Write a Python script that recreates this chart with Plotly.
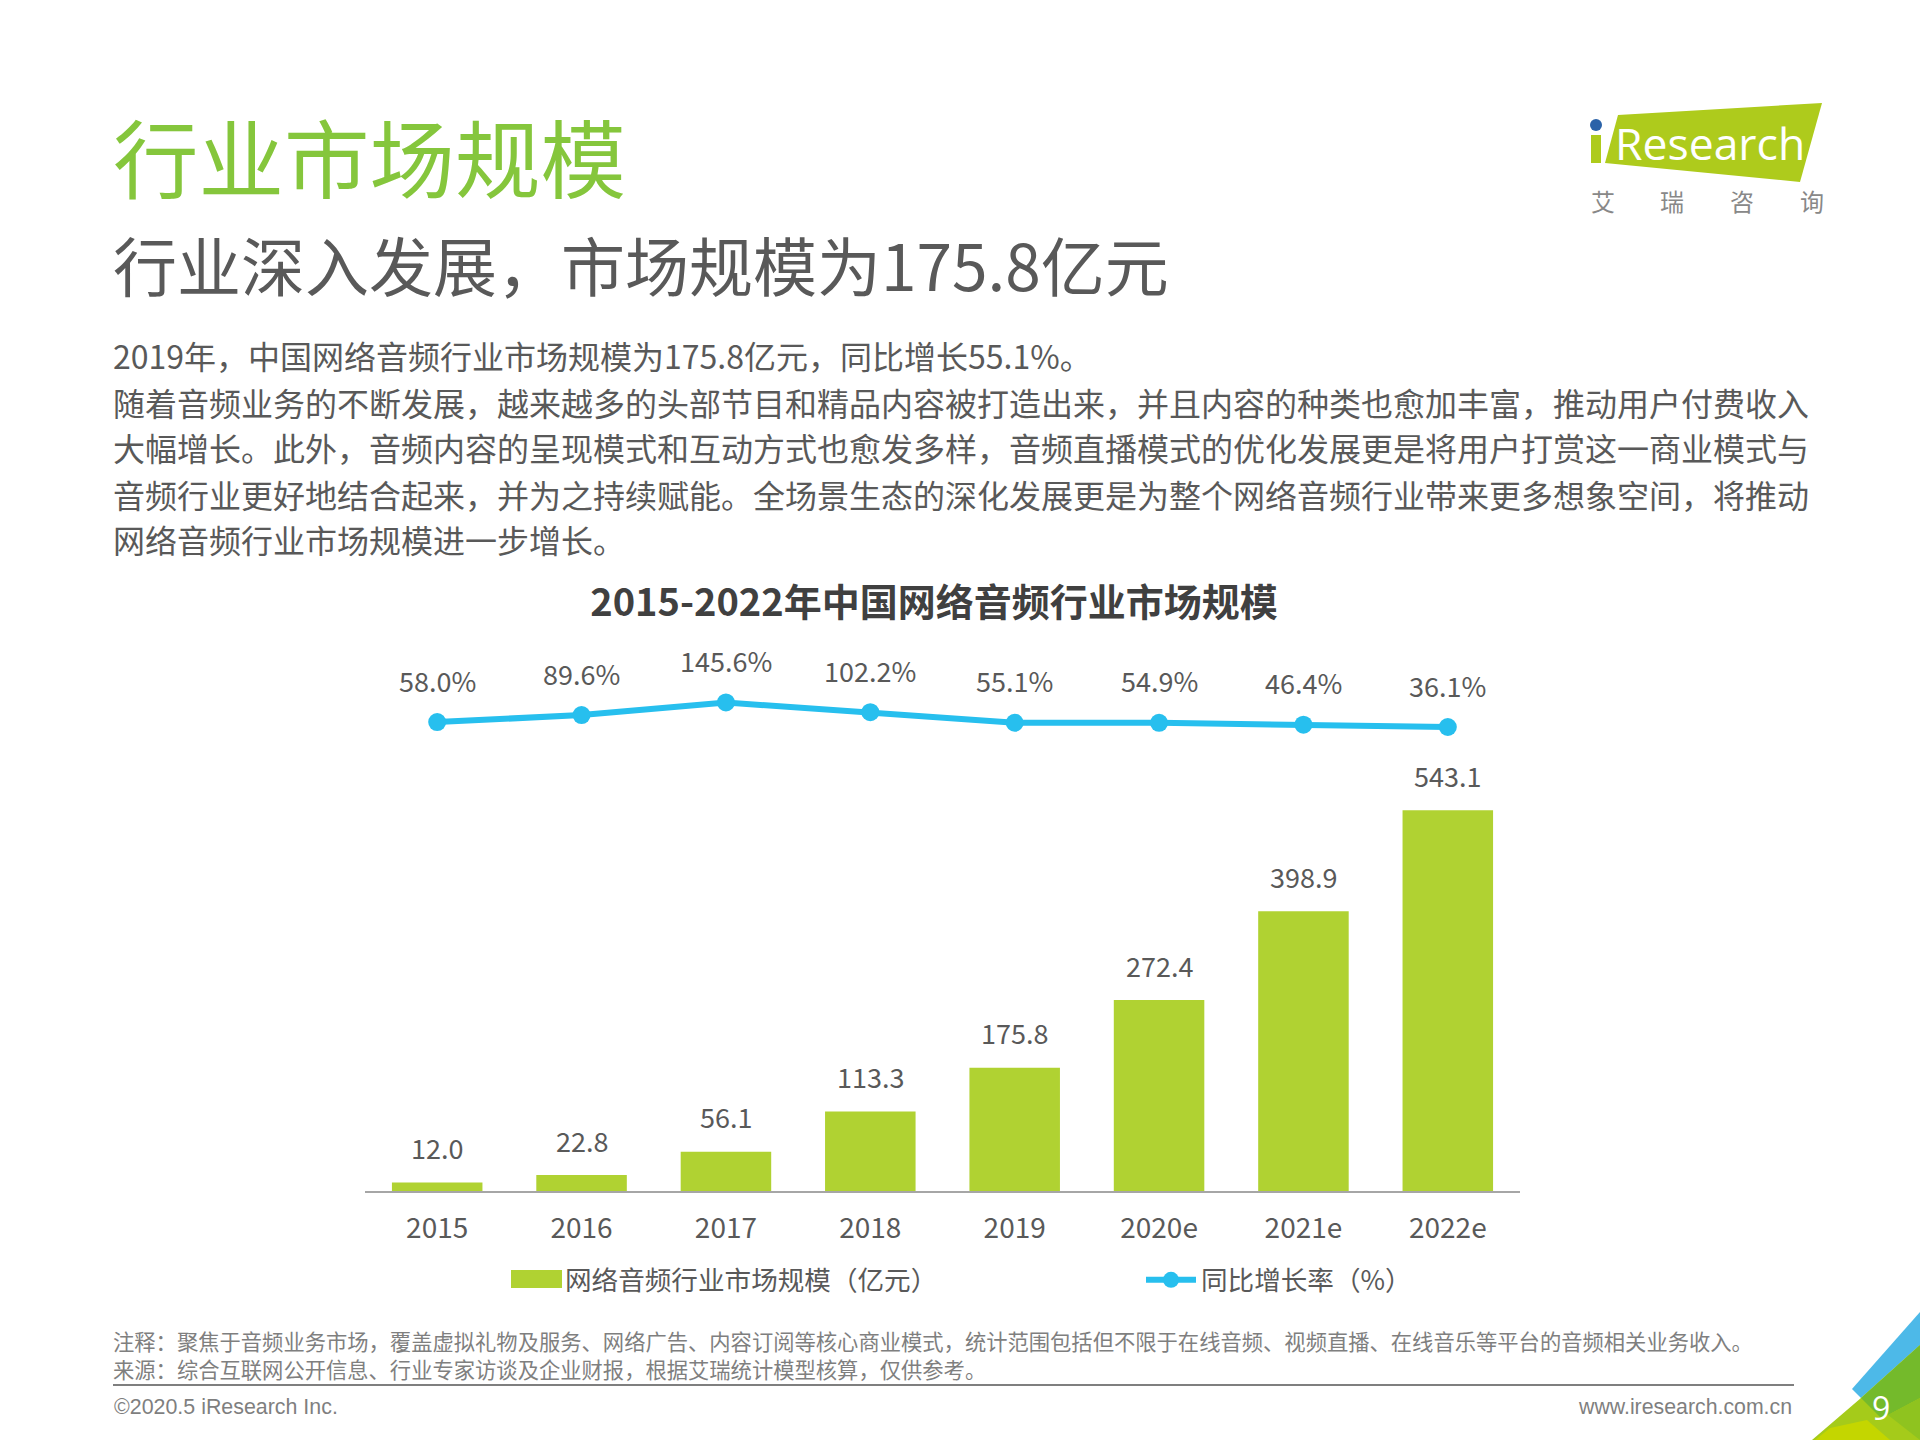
import plotly.graph_objects as go

W, H = 1920, 1440
FONT = "Noto Sans CJK SC"
GREY = "#595959"

categories = ["2015", "2016", "2017", "2018", "2019", "2020e", "2021e", "2022e"]
market_size = [12.0, 22.8, 56.1, 113.3, 175.8, 272.4, 398.9, 543.1]
growth_rate = [58.0, 89.6, 145.6, 102.2, 55.1, 54.9, 46.4, 36.1]
bar_name = "网络音频行业市场规模（亿元）"
line_name = "同比增长率（%）"

page_title = "行业市场规模"
page_subtitle = "行业深入发展，市场规模为175.8亿元"
chart_title = "2015-2022年中国网络音频行业市场规模"
body_lines = [
    "2019年，中国网络音频行业市场规模为175.8亿元，同比增长55.1%。",
    "随着音频业务的不断发展，越来越多的头部节目和精品内容被打造出来，并且内容的种类也愈加丰富，推动用户付费收入",
    "大幅增长。此外，音频内容的呈现模式和互动方式也愈发多样，音频直播模式的优化发展更是将用户打赏这一商业模式与",
    "音频行业更好地结合起来，并为之持续赋能。全场景生态的深化发展更是为整个网络音频行业带来更多想象空间，将推动",
    "网络音频行业市场规模进一步增长。",
]
note_lines = [
    "注释：聚焦于音频业务市场，覆盖虚拟礼物及服务、网络广告、内容订阅等核心商业模式，统计范围包括但不限于在线音频、视频直播、在线音乐等平台的音频相关业务收入。",
    "来源：综合互联网公开信息、行业专家访谈及企业财报，根据艾瑞统计模型核算，仅供参考。",
]

PLOT_L, PLOT_R, PLOT_T, PLOT_B = 365, 1520, 620, 1191


def px(x):
    return x / W


def py(y):
    return 1 - y / H


def poly(points, color):
    path = "M " + " L ".join(f"{px(x):.5f} {py(y):.5f}" for x, y in points) + " Z"
    return dict(type="path", xref="paper", yref="paper", path=path,
                fillcolor=color, line_width=0, layer="below")


def text(x, y, s, size, color=GREY, anchor="left", family=FONT):
    return dict(xref="paper", yref="paper", x=px(x), y=py(y), text=s, showarrow=False,
                xanchor=anchor, yanchor="middle", align=anchor,
                font=dict(family=family, size=size, color=color))


fig = go.Figure()
fig.add_trace(go.Bar(
    x=categories, y=market_size, name=bar_name, marker=dict(color="#B0D232", line_width=0),
    yaxis="y", hoverinfo="x+y",
))
fig.add_trace(go.Scatter(
    x=categories, y=growth_rate, name=line_name, mode="lines+markers", yaxis="y2",
    line=dict(color="#27BFEE", width=6), marker=dict(color="#27BFEE", size=18),
))

annotations = [
    text(111, 154.5, page_title, 85.5, "#85C63C"),
    text(111, 263, page_subtitle, 64),
]
for line, y in zip(body_lines, [354.5, 401.5, 447.5, 494.5, 539.5]):
    annotations.append(text(111, y, line, 32))
annotations.append(text(111, 1354, "<br>".join(note_lines), 21.3, "#7F7F7F"))
annotations += [
    text(112, 1407, "©2020.5 iResearch Inc.", 21.4, "#7F7F7F", family="Liberation Sans"),
    text(1794, 1407, "www.iresearch.com.cn", 21.3, "#7F7F7F", "right", "Liberation Sans"),
    text(1881, 1407, "9", 32, "#FFFFFF", "center", "Open Sans"),
    text(1710, 143, "Research", 44.5, "#FFFFFF", "center", "Open Sans"),
]
for ch, x in zip("艾瑞咨询", [1603, 1672, 1742, 1812]):
    annotations.append(text(x, 200.5, ch, 24, "#888888", "center"))
for i, v in enumerate(market_size):
    annotations.append(dict(x=i, y=v, xref="x", yref="y", text=f"{v:.1f}", showarrow=False,
                            yanchor="middle", yshift=35,
                            font=dict(family=FONT, size=27, color=GREY)))
for i, v in enumerate(growth_rate):
    annotations.append(dict(x=i, y=v, xref="x", yref="y2", text=f"{v:.1f}%", showarrow=False,
                            yanchor="middle", yshift=42,
                            font=dict(family=FONT, size=27, color=GREY)))

shapes = [
    # iResearch logo
    poly([(1618, 115), (1822, 103), (1800, 182), (1605, 163)], "#AECB1C"),
    poly([(1591, 135), (1601, 135), (1601, 163), (1591, 163)], "#AECB1C"),
    dict(type="circle", xref="paper", yref="paper", x0=px(1590), x1=px(1602),
         y0=py(131), y1=py(119), fillcolor="#2B62A8", line_width=0, layer="below"),
    # corner decoration
    poly([(1920, 1312), (1852, 1389), (1861, 1398), (1920, 1345)], "#4DB9E8"),
    poly([(1861, 1398), (1920, 1345), (1920, 1440), (1812, 1440)], "#A5CB1A"),
    poly([(1861, 1398), (1920, 1345), (1920, 1398), (1888, 1415), (1880, 1417)], "#74BA2B"),
    poly([(1888, 1415), (1920, 1398), (1920, 1440)], "#8FC31F"),
    poly([(1830, 1428), (1867, 1420), (1890, 1440), (1815, 1440)], "#C4D600"),
    # footer rule
    dict(type="line", xref="paper", yref="paper", x0=px(113), x1=px(1794),
         y0=py(1385), y1=py(1385), line=dict(color="#7F7F7F", width=2)),
    # widens the bar colour's small legend swatch
    poly([(511, 1270), (562, 1270), (562, 1288), (511, 1288)], "#B0D232"),
]

# secondary axis scale: 0.224 px per percentage point, 36.1 % sits at y=727 px
y2_bottom = 36.1 - (PLOT_B - 727) / 0.224
y2_top = 36.1 + (727 - PLOT_T) / 0.224

fig.update_layout(
    width=W, height=H, margin=dict(l=0, r=0, t=0, b=0),
    paper_bgcolor="white", plot_bgcolor="white",
    font=dict(family=FONT, color=GREY),
    title=dict(text=f"<b>{chart_title}</b>", x=px(934), y=py(603), xref="paper", yref="paper",
               xanchor="center", yanchor="middle",
               font=dict(family=FONT, size=38, color="#404040")),
    bargap=0.373,
    xaxis=dict(domain=[px(PLOT_L), px(PLOT_R)], type="category", range=[-0.5, 7.5],
               categoryorder="array", categoryarray=categories,
               showgrid=False, zeroline=False,
               showline=True, linecolor="#A6A6A6", linewidth=2, ticks="",
               ticklabelstandoff=11, tickfont=dict(family=FONT, size=28, color=GREY)),
    yaxis=dict(domain=[py(PLOT_B), py(PLOT_T)], range=[0, (PLOT_B - PLOT_T) / 0.701],
               visible=False, showgrid=False, zeroline=False),
    yaxis2=dict(domain=[py(PLOT_B), py(PLOT_T)], overlaying="y", side="right", anchor="x",
                range=[y2_bottom, y2_top], visible=False, showgrid=False, zeroline=False),
    legend=dict(orientation="h", x=px(505), y=py(1280), xanchor="left", yanchor="middle",
                itemwidth=50, entrywidth=571, entrywidthmode="pixels",
                font=dict(family=FONT, size=26.6, color=GREY), bgcolor="rgba(0,0,0,0)"),
    annotations=annotations, shapes=shapes,
)

fig.write_html("out.html", config=dict(displayModeBar=False),
               post_script="document.body.style.margin='0';")
